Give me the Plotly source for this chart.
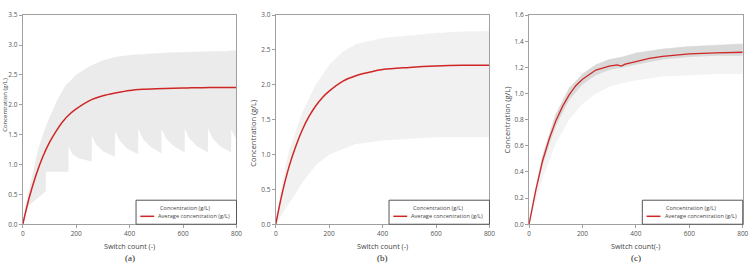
import plotly.graph_objects as go

W, H = 754, 264

# ---------------- data ----------------
# Panel (a)
avg_a_x = [0, 25, 50, 75, 100, 125, 150, 175, 200, 250, 300, 350, 400, 450, 500, 600, 700, 800]
avg_a_y = [0, 0.46, 0.83, 1.13, 1.37, 1.56, 1.72, 1.84, 1.93, 2.07, 2.15, 2.20, 2.24, 2.26, 2.27, 2.28, 2.29, 2.29]
upper_a_x = [0, 15, 33, 58, 80, 100, 130, 160, 200, 250, 300, 350, 400, 450, 500, 550, 600, 650, 700, 750, 800]
upper_a_y = [0, 0.40, 0.75, 1.25, 1.55, 1.78, 2.08, 2.32, 2.50, 2.64, 2.74, 2.80, 2.83, 2.85, 2.86, 2.87, 2.88, 2.88, 2.89, 2.89, 2.91]
lower_a_x = [0, 20, 50, 86, 86.5, 171, 171.5, 185, 210, 258, 258.5, 275, 300, 345, 345.5, 362, 390, 432,
             432.5, 449, 477, 519, 519.5, 536, 564, 606, 606.5, 623, 651, 693, 693.5, 710, 738, 780, 780.5, 800]
lower_a_y = [0, 0.30, 0.42, 0.55, 0.88, 0.88, 1.30, 1.18, 1.10, 1.05, 1.48, 1.33, 1.22, 1.13, 1.56, 1.40, 1.27, 1.17,
             1.60, 1.43, 1.30, 1.19, 1.60, 1.44, 1.31, 1.20, 1.60, 1.44, 1.31, 1.20, 1.60, 1.44, 1.31, 1.20, 1.58, 1.42]

# Panel (b)
avg_b_x = [0, 25, 50, 75, 100, 125, 150, 175, 200, 250, 300, 350, 400, 500, 600, 700, 800]
avg_b_y = [0, 0.46, 0.83, 1.12, 1.36, 1.55, 1.70, 1.82, 1.91, 2.05, 2.13, 2.18, 2.22, 2.25, 2.27, 2.28, 2.28]
upper_b_x = [0, 25, 50, 100, 150, 200, 250, 300, 400, 500, 600, 700, 800]
upper_b_y = [0, 0.60, 1.05, 1.60, 2.00, 2.28, 2.47, 2.58, 2.67, 2.71, 2.74, 2.76, 2.77]
lower_b_x = [0, 50, 100, 150, 200, 300, 400, 600, 800]
lower_b_y = [0, 0.30, 0.60, 0.85, 1.00, 1.15, 1.20, 1.25, 1.25]

# Panel (c)
avg_c_x = [0, 25, 50, 75, 100, 125, 150, 175, 200, 250, 300, 330, 345, 360, 400, 450, 500, 600, 700, 800]
avg_c_y = [0, 0.26, 0.48, 0.65, 0.79, 0.90, 0.99, 1.06, 1.11, 1.18, 1.21, 1.22, 1.21, 1.225, 1.245, 1.27, 1.285, 1.303, 1.312, 1.316]
upper_c_x = [0, 50, 100, 150, 200, 250, 300, 350, 400, 500, 600, 700, 800]
upper_c_y = [0.02, 0.52, 0.84, 1.04, 1.15, 1.22, 1.26, 1.28, 1.31, 1.34, 1.36, 1.37, 1.38]
core_c_y = [0, 0.45, 0.75, 0.95, 1.07, 1.14, 1.18, 1.20, 1.22, 1.26, 1.28, 1.29, 1.29]
lower_c_y = [0, 0.35, 0.62, 0.80, 0.92, 1.00, 1.05, 1.08, 1.10, 1.13, 1.14, 1.15, 1.15]

x_ticks = [0, 200, 400, 600, 800]
y_max = [3.5, 3.0, 1.6]
y_dtick = [0.5, 0.5, 0.2]
sub_labels = ["(a)", "(b)", "(c)"]
x_titles = ["Switch count (-)", "Switch count (-)", "Switch count(-)"]
y_title = "Concentration (g/L)"
legend_names = ["Concentration (g/L)", "Average concentration (g/L)"]

# ---------------- layout geometry (pixels) ----------------
plot_left = [21, 276.7, 532.7]
plot_width = 216
plot_top, plot_bottom = 10.5, 227
ytitle_x = [3.4, 254, 510]
ytitle_y = [103, 133, 119]
ytitle_size = [6.0, 7.5, 7.5]

RED = "#cf2626"
FONT = "Open Sans"

fig = go.Figure()


def band(xl, yl, xu, yu, color, ax, name=None):
    fig.add_trace(go.Scatter(x=xl, y=yl, mode="lines", line=dict(width=0, color=color),
                             showlegend=False, hoverinfo="skip", xaxis=ax[0], yaxis=ax[1]))
    fig.add_trace(go.Scatter(x=xu, y=yu, mode="lines", line=dict(width=0.4, color=color),
                             fill="tonexty", fillcolor=color, showlegend=False,
                             name=name or "", xaxis=ax[0], yaxis=ax[1]))


axes = [("x", "y"), ("x2", "y2"), ("x3", "y3")]

band(lower_a_x, lower_a_y, upper_a_x, upper_a_y, "#ebebeb", axes[0], legend_names[0])
fig.add_trace(go.Scatter(x=avg_a_x, y=avg_a_y, mode="lines", line=dict(color=RED, width=1.5, shape="spline"),
                         name=legend_names[1], showlegend=False, xaxis="x", yaxis="y"))

band(lower_b_x, lower_b_y, upper_b_x, upper_b_y, "#f1f1f1", axes[1], legend_names[0])
fig.add_trace(go.Scatter(x=avg_b_x, y=avg_b_y, mode="lines", line=dict(color=RED, width=1.5, shape="spline"),
                         name=legend_names[1], showlegend=False, xaxis="x2", yaxis="y2"))

band(upper_c_x, lower_c_y, upper_c_x, upper_c_y, "#f3f3f3", axes[2], legend_names[0])
band(upper_c_x, core_c_y, upper_c_x, upper_c_y, "#d9d9d9", axes[2], legend_names[0])
fig.add_trace(go.Scatter(x=avg_c_x, y=avg_c_y, mode="lines", line=dict(color=RED, width=1.3),
                         name=legend_names[1], showlegend=False, xaxis="x3", yaxis="y3"))

layout = dict(
    width=W, height=H, margin=dict(l=0, r=0, t=0, b=0),
    paper_bgcolor="white", plot_bgcolor="white",
    font=dict(family=FONT, color="#444444"),
    showlegend=False,
)

ydom = [1 - plot_bottom / H, 1 - plot_top / H]
annotations = []
shapes = []
for i in range(3):
    sfx = "" if i == 0 else str(i + 1)
    x0 = plot_left[i] / W
    x1 = (plot_left[i] + plot_width) / W
    axis_common = dict(showline=True, mirror=True, linecolor="#a0a0a0", linewidth=1,
                       showgrid=False, zeroline=False, ticks="outside", ticklen=3,
                       tickcolor="#a0a0a0", tickfont=dict(size=6.5, color="#555555", family=FONT))
    layout["xaxis" + sfx] = dict(domain=[x0, x1], range=[0, 800], tickvals=x_ticks,
                                 anchor="y" + sfx, **axis_common)
    layout["yaxis" + sfx] = dict(domain=ydom, range=[0, y_max[i]], dtick=y_dtick[i], tick0=0,
                                 tickformat=".1f", anchor="x" + sfx, **axis_common)
    cx = (plot_left[i] + plot_width / 2) / W
    annotations.append(dict(text=x_titles[i], x=cx, y=1 - 250 / H, xref="paper", yref="paper",
                            showarrow=False, xanchor="center", yanchor="middle",
                            font=dict(size=7.2, color="#444444", family=FONT)))
    annotations.append(dict(text=sub_labels[i], x=cx, y=1 - 262 / H, xref="paper", yref="paper",
                            showarrow=False, xanchor="center", yanchor="middle",
                            font=dict(size=9, color="#222222", family="Liberation Serif")))
    annotations.append(dict(text=y_title, x=ytitle_x[i] / W, y=1 - ytitle_y[i] / H, xref="paper", yref="paper",
                            showarrow=False, xanchor="center", yanchor="middle", textangle=-90,
                            font=dict(size=ytitle_size[i], color="#444444", family=FONT)))
    # legend box
    xd = "x" + sfx + " domain"
    yd = "y" + sfx + " domain"
    shapes.append(dict(type="rect", xref=xd, yref=yd, x0=0.53, x1=1.0, y0=0.0, y1=0.115,
                       line=dict(color="#555555", width=1), fillcolor="white", layer="above"))
    shapes.append(dict(type="line", xref=xd, yref=yd, x0=0.55, x1=0.615, y0=0.038, y1=0.038,
                       line=dict(color=RED, width=1.5), layer="above"))
    annotations.append(dict(text=legend_names[0], x=0.632, y=0.077, xref=xd, yref=yd,
                            showarrow=False, xanchor="left", yanchor="middle",
                            font=dict(size=5.6, color="#444444", family=FONT)))
    annotations.append(dict(text=legend_names[1], x=0.625, y=0.038, xref=xd, yref=yd,
                            showarrow=False, xanchor="left", yanchor="middle",
                            font=dict(size=5.6, color="#444444", family=FONT)))

layout["annotations"] = annotations
layout["shapes"] = shapes
fig.update_layout(**layout)
fig.write_html("out.html")
